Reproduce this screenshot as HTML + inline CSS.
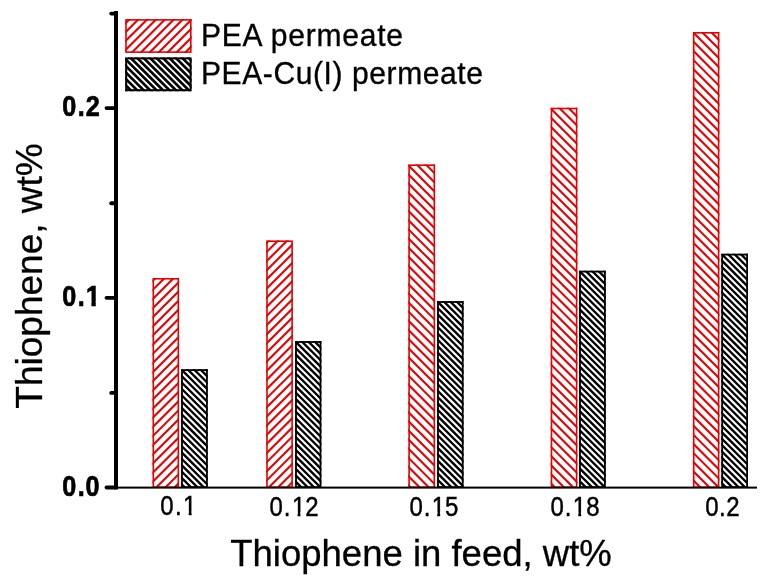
<!DOCTYPE html>
<html><head><meta charset="utf-8"><style>
html,body{margin:0;padding:0;background:#fff;}
body{width:770px;height:580px;overflow:hidden;}
svg{display:block;will-change:transform;}
text{font-family:"Liberation Sans",sans-serif;}
</style></head><body>
<svg width="770" height="580" viewBox="0 0 770 580">
<rect width="770" height="580" fill="#fff"/>
<clipPath id="c1"><rect x="152.50" y="278.00" width="26.60" height="210.00"/></clipPath>
<g clip-path="url(#c1)" stroke="#e60000" stroke-width="2.10">
<line x1="146.36" y1="268.86" x2="-81.92" y2="497.14"/>
<line x1="155.50" y1="268.86" x2="-72.78" y2="497.14"/>
<line x1="164.64" y1="268.86" x2="-63.64" y2="497.14"/>
<line x1="173.78" y1="268.86" x2="-54.50" y2="497.14"/>
<line x1="182.92" y1="268.86" x2="-45.36" y2="497.14"/>
<line x1="192.06" y1="268.86" x2="-36.22" y2="497.14"/>
<line x1="201.20" y1="268.86" x2="-27.08" y2="497.14"/>
<line x1="210.34" y1="268.86" x2="-17.94" y2="497.14"/>
<line x1="219.48" y1="268.86" x2="-8.80" y2="497.14"/>
<line x1="228.62" y1="268.86" x2="0.34" y2="497.14"/>
<line x1="237.76" y1="268.86" x2="9.48" y2="497.14"/>
<line x1="246.90" y1="268.86" x2="18.62" y2="497.14"/>
<line x1="256.04" y1="268.86" x2="27.76" y2="497.14"/>
<line x1="265.18" y1="268.86" x2="36.90" y2="497.14"/>
<line x1="274.32" y1="268.86" x2="46.04" y2="497.14"/>
<line x1="283.46" y1="268.86" x2="55.18" y2="497.14"/>
<line x1="292.60" y1="268.86" x2="64.32" y2="497.14"/>
<line x1="301.74" y1="268.86" x2="73.46" y2="497.14"/>
<line x1="310.88" y1="268.86" x2="82.60" y2="497.14"/>
<line x1="320.02" y1="268.86" x2="91.74" y2="497.14"/>
<line x1="329.16" y1="268.86" x2="100.88" y2="497.14"/>
<line x1="338.30" y1="268.86" x2="110.02" y2="497.14"/>
<line x1="347.44" y1="268.86" x2="119.16" y2="497.14"/>
<line x1="356.58" y1="268.86" x2="128.30" y2="497.14"/>
<line x1="365.72" y1="268.86" x2="137.44" y2="497.14"/>
<line x1="374.86" y1="268.86" x2="146.58" y2="497.14"/>
<line x1="384.00" y1="268.86" x2="155.72" y2="497.14"/>
<line x1="393.14" y1="268.86" x2="164.86" y2="497.14"/>
<line x1="402.28" y1="268.86" x2="174.00" y2="497.14"/>
<line x1="411.42" y1="268.86" x2="183.14" y2="497.14"/>
</g>
<rect x="153.30" y="278.80" width="25.00" height="208.40" fill="none" stroke="#e60000" stroke-width="1.60"/>
<clipPath id="c2"><rect x="266.20" y="240.40" width="26.70" height="247.60"/></clipPath>
<g clip-path="url(#c2)" stroke="#e60000" stroke-width="2.10">
<line x1="259.96" y1="231.26" x2="-5.92" y2="497.14"/>
<line x1="269.10" y1="231.26" x2="3.22" y2="497.14"/>
<line x1="278.24" y1="231.26" x2="12.36" y2="497.14"/>
<line x1="287.38" y1="231.26" x2="21.50" y2="497.14"/>
<line x1="296.52" y1="231.26" x2="30.64" y2="497.14"/>
<line x1="305.66" y1="231.26" x2="39.78" y2="497.14"/>
<line x1="314.80" y1="231.26" x2="48.92" y2="497.14"/>
<line x1="323.94" y1="231.26" x2="58.06" y2="497.14"/>
<line x1="333.08" y1="231.26" x2="67.20" y2="497.14"/>
<line x1="342.22" y1="231.26" x2="76.34" y2="497.14"/>
<line x1="351.36" y1="231.26" x2="85.48" y2="497.14"/>
<line x1="360.50" y1="231.26" x2="94.62" y2="497.14"/>
<line x1="369.64" y1="231.26" x2="103.76" y2="497.14"/>
<line x1="378.78" y1="231.26" x2="112.90" y2="497.14"/>
<line x1="387.92" y1="231.26" x2="122.04" y2="497.14"/>
<line x1="397.06" y1="231.26" x2="131.18" y2="497.14"/>
<line x1="406.20" y1="231.26" x2="140.32" y2="497.14"/>
<line x1="415.34" y1="231.26" x2="149.46" y2="497.14"/>
<line x1="424.48" y1="231.26" x2="158.60" y2="497.14"/>
<line x1="433.62" y1="231.26" x2="167.74" y2="497.14"/>
<line x1="442.76" y1="231.26" x2="176.88" y2="497.14"/>
<line x1="451.90" y1="231.26" x2="186.02" y2="497.14"/>
<line x1="461.04" y1="231.26" x2="195.16" y2="497.14"/>
<line x1="470.18" y1="231.26" x2="204.30" y2="497.14"/>
<line x1="479.32" y1="231.26" x2="213.44" y2="497.14"/>
<line x1="488.46" y1="231.26" x2="222.58" y2="497.14"/>
<line x1="497.60" y1="231.26" x2="231.72" y2="497.14"/>
<line x1="506.74" y1="231.26" x2="240.86" y2="497.14"/>
<line x1="515.88" y1="231.26" x2="250.00" y2="497.14"/>
<line x1="525.02" y1="231.26" x2="259.14" y2="497.14"/>
<line x1="534.16" y1="231.26" x2="268.28" y2="497.14"/>
<line x1="543.30" y1="231.26" x2="277.42" y2="497.14"/>
<line x1="552.44" y1="231.26" x2="286.56" y2="497.14"/>
<line x1="561.58" y1="231.26" x2="295.70" y2="497.14"/>
<line x1="570.72" y1="231.26" x2="304.84" y2="497.14"/>
</g>
<rect x="267.00" y="241.20" width="25.10" height="246.00" fill="none" stroke="#e60000" stroke-width="1.60"/>
<clipPath id="c3"><rect x="408.30" y="164.40" width="26.80" height="323.60"/></clipPath>
<g clip-path="url(#c3)" stroke="#e60000" stroke-width="2.10">
<line x1="60.18" y1="155.26" x2="402.06" y2="497.14"/>
<line x1="69.32" y1="155.26" x2="411.20" y2="497.14"/>
<line x1="78.46" y1="155.26" x2="420.34" y2="497.14"/>
<line x1="87.60" y1="155.26" x2="429.48" y2="497.14"/>
<line x1="96.74" y1="155.26" x2="438.62" y2="497.14"/>
<line x1="105.88" y1="155.26" x2="447.76" y2="497.14"/>
<line x1="115.02" y1="155.26" x2="456.90" y2="497.14"/>
<line x1="124.16" y1="155.26" x2="466.04" y2="497.14"/>
<line x1="133.30" y1="155.26" x2="475.18" y2="497.14"/>
<line x1="142.44" y1="155.26" x2="484.32" y2="497.14"/>
<line x1="151.58" y1="155.26" x2="493.46" y2="497.14"/>
<line x1="160.72" y1="155.26" x2="502.60" y2="497.14"/>
<line x1="169.86" y1="155.26" x2="511.74" y2="497.14"/>
<line x1="179.00" y1="155.26" x2="520.88" y2="497.14"/>
<line x1="188.14" y1="155.26" x2="530.02" y2="497.14"/>
<line x1="197.28" y1="155.26" x2="539.16" y2="497.14"/>
<line x1="206.42" y1="155.26" x2="548.30" y2="497.14"/>
<line x1="215.56" y1="155.26" x2="557.44" y2="497.14"/>
<line x1="224.70" y1="155.26" x2="566.58" y2="497.14"/>
<line x1="233.84" y1="155.26" x2="575.72" y2="497.14"/>
<line x1="242.98" y1="155.26" x2="584.86" y2="497.14"/>
<line x1="252.12" y1="155.26" x2="594.00" y2="497.14"/>
<line x1="261.26" y1="155.26" x2="603.14" y2="497.14"/>
<line x1="270.40" y1="155.26" x2="612.28" y2="497.14"/>
<line x1="279.54" y1="155.26" x2="621.42" y2="497.14"/>
<line x1="288.68" y1="155.26" x2="630.56" y2="497.14"/>
<line x1="297.82" y1="155.26" x2="639.70" y2="497.14"/>
<line x1="306.96" y1="155.26" x2="648.84" y2="497.14"/>
<line x1="316.10" y1="155.26" x2="657.98" y2="497.14"/>
<line x1="325.24" y1="155.26" x2="667.12" y2="497.14"/>
<line x1="334.38" y1="155.26" x2="676.26" y2="497.14"/>
<line x1="343.52" y1="155.26" x2="685.40" y2="497.14"/>
<line x1="352.66" y1="155.26" x2="694.54" y2="497.14"/>
<line x1="361.80" y1="155.26" x2="703.68" y2="497.14"/>
<line x1="370.94" y1="155.26" x2="712.82" y2="497.14"/>
<line x1="380.08" y1="155.26" x2="721.96" y2="497.14"/>
<line x1="389.22" y1="155.26" x2="731.10" y2="497.14"/>
<line x1="398.36" y1="155.26" x2="740.24" y2="497.14"/>
<line x1="407.50" y1="155.26" x2="749.38" y2="497.14"/>
<line x1="416.64" y1="155.26" x2="758.52" y2="497.14"/>
<line x1="425.78" y1="155.26" x2="767.66" y2="497.14"/>
<line x1="434.92" y1="155.26" x2="776.80" y2="497.14"/>
</g>
<rect x="409.10" y="165.20" width="25.20" height="322.00" fill="none" stroke="#e60000" stroke-width="1.60"/>
<clipPath id="c4"><rect x="550.70" y="107.70" width="26.70" height="380.30"/></clipPath>
<g clip-path="url(#c4)" stroke="#e60000" stroke-width="2.10">
<line x1="147.84" y1="98.56" x2="546.42" y2="497.14"/>
<line x1="156.98" y1="98.56" x2="555.56" y2="497.14"/>
<line x1="166.12" y1="98.56" x2="564.70" y2="497.14"/>
<line x1="175.26" y1="98.56" x2="573.84" y2="497.14"/>
<line x1="184.40" y1="98.56" x2="582.98" y2="497.14"/>
<line x1="193.54" y1="98.56" x2="592.12" y2="497.14"/>
<line x1="202.68" y1="98.56" x2="601.26" y2="497.14"/>
<line x1="211.82" y1="98.56" x2="610.40" y2="497.14"/>
<line x1="220.96" y1="98.56" x2="619.54" y2="497.14"/>
<line x1="230.10" y1="98.56" x2="628.68" y2="497.14"/>
<line x1="239.24" y1="98.56" x2="637.82" y2="497.14"/>
<line x1="248.38" y1="98.56" x2="646.96" y2="497.14"/>
<line x1="257.52" y1="98.56" x2="656.10" y2="497.14"/>
<line x1="266.66" y1="98.56" x2="665.24" y2="497.14"/>
<line x1="275.80" y1="98.56" x2="674.38" y2="497.14"/>
<line x1="284.94" y1="98.56" x2="683.52" y2="497.14"/>
<line x1="294.08" y1="98.56" x2="692.66" y2="497.14"/>
<line x1="303.22" y1="98.56" x2="701.80" y2="497.14"/>
<line x1="312.36" y1="98.56" x2="710.94" y2="497.14"/>
<line x1="321.50" y1="98.56" x2="720.08" y2="497.14"/>
<line x1="330.64" y1="98.56" x2="729.22" y2="497.14"/>
<line x1="339.78" y1="98.56" x2="738.36" y2="497.14"/>
<line x1="348.92" y1="98.56" x2="747.50" y2="497.14"/>
<line x1="358.06" y1="98.56" x2="756.64" y2="497.14"/>
<line x1="367.20" y1="98.56" x2="765.78" y2="497.14"/>
<line x1="376.34" y1="98.56" x2="774.92" y2="497.14"/>
<line x1="385.48" y1="98.56" x2="784.06" y2="497.14"/>
<line x1="394.62" y1="98.56" x2="793.20" y2="497.14"/>
<line x1="403.76" y1="98.56" x2="802.34" y2="497.14"/>
<line x1="412.90" y1="98.56" x2="811.48" y2="497.14"/>
<line x1="422.04" y1="98.56" x2="820.62" y2="497.14"/>
<line x1="431.18" y1="98.56" x2="829.76" y2="497.14"/>
<line x1="440.32" y1="98.56" x2="838.90" y2="497.14"/>
<line x1="449.46" y1="98.56" x2="848.04" y2="497.14"/>
<line x1="458.60" y1="98.56" x2="857.18" y2="497.14"/>
<line x1="467.74" y1="98.56" x2="866.32" y2="497.14"/>
<line x1="476.88" y1="98.56" x2="875.46" y2="497.14"/>
<line x1="486.02" y1="98.56" x2="884.60" y2="497.14"/>
<line x1="495.16" y1="98.56" x2="893.74" y2="497.14"/>
<line x1="504.30" y1="98.56" x2="902.88" y2="497.14"/>
<line x1="513.44" y1="98.56" x2="912.02" y2="497.14"/>
<line x1="522.58" y1="98.56" x2="921.16" y2="497.14"/>
<line x1="531.72" y1="98.56" x2="930.30" y2="497.14"/>
<line x1="540.86" y1="98.56" x2="939.44" y2="497.14"/>
<line x1="550.00" y1="98.56" x2="948.58" y2="497.14"/>
<line x1="559.14" y1="98.56" x2="957.72" y2="497.14"/>
<line x1="568.28" y1="98.56" x2="966.86" y2="497.14"/>
<line x1="577.42" y1="98.56" x2="976.00" y2="497.14"/>
</g>
<rect x="551.50" y="108.50" width="25.10" height="378.70" fill="none" stroke="#e60000" stroke-width="1.60"/>
<clipPath id="c5"><rect x="692.90" y="32.00" width="26.50" height="456.00"/></clipPath>
<g clip-path="url(#c5)" stroke="#e60000" stroke-width="2.10">
<line x1="217.52" y1="22.86" x2="691.80" y2="497.14"/>
<line x1="226.66" y1="22.86" x2="700.94" y2="497.14"/>
<line x1="235.80" y1="22.86" x2="710.08" y2="497.14"/>
<line x1="244.94" y1="22.86" x2="719.22" y2="497.14"/>
<line x1="254.08" y1="22.86" x2="728.36" y2="497.14"/>
<line x1="263.22" y1="22.86" x2="737.50" y2="497.14"/>
<line x1="272.36" y1="22.86" x2="746.64" y2="497.14"/>
<line x1="281.50" y1="22.86" x2="755.78" y2="497.14"/>
<line x1="290.64" y1="22.86" x2="764.92" y2="497.14"/>
<line x1="299.78" y1="22.86" x2="774.06" y2="497.14"/>
<line x1="308.92" y1="22.86" x2="783.20" y2="497.14"/>
<line x1="318.06" y1="22.86" x2="792.34" y2="497.14"/>
<line x1="327.20" y1="22.86" x2="801.48" y2="497.14"/>
<line x1="336.34" y1="22.86" x2="810.62" y2="497.14"/>
<line x1="345.48" y1="22.86" x2="819.76" y2="497.14"/>
<line x1="354.62" y1="22.86" x2="828.90" y2="497.14"/>
<line x1="363.76" y1="22.86" x2="838.04" y2="497.14"/>
<line x1="372.90" y1="22.86" x2="847.18" y2="497.14"/>
<line x1="382.04" y1="22.86" x2="856.32" y2="497.14"/>
<line x1="391.18" y1="22.86" x2="865.46" y2="497.14"/>
<line x1="400.32" y1="22.86" x2="874.60" y2="497.14"/>
<line x1="409.46" y1="22.86" x2="883.74" y2="497.14"/>
<line x1="418.60" y1="22.86" x2="892.88" y2="497.14"/>
<line x1="427.74" y1="22.86" x2="902.02" y2="497.14"/>
<line x1="436.88" y1="22.86" x2="911.16" y2="497.14"/>
<line x1="446.02" y1="22.86" x2="920.30" y2="497.14"/>
<line x1="455.16" y1="22.86" x2="929.44" y2="497.14"/>
<line x1="464.30" y1="22.86" x2="938.58" y2="497.14"/>
<line x1="473.44" y1="22.86" x2="947.72" y2="497.14"/>
<line x1="482.58" y1="22.86" x2="956.86" y2="497.14"/>
<line x1="491.72" y1="22.86" x2="966.00" y2="497.14"/>
<line x1="500.86" y1="22.86" x2="975.14" y2="497.14"/>
<line x1="510.00" y1="22.86" x2="984.28" y2="497.14"/>
<line x1="519.14" y1="22.86" x2="993.42" y2="497.14"/>
<line x1="528.28" y1="22.86" x2="1002.56" y2="497.14"/>
<line x1="537.42" y1="22.86" x2="1011.70" y2="497.14"/>
<line x1="546.56" y1="22.86" x2="1020.84" y2="497.14"/>
<line x1="555.70" y1="22.86" x2="1029.98" y2="497.14"/>
<line x1="564.84" y1="22.86" x2="1039.12" y2="497.14"/>
<line x1="573.98" y1="22.86" x2="1048.26" y2="497.14"/>
<line x1="583.12" y1="22.86" x2="1057.40" y2="497.14"/>
<line x1="592.26" y1="22.86" x2="1066.54" y2="497.14"/>
<line x1="601.40" y1="22.86" x2="1075.68" y2="497.14"/>
<line x1="610.54" y1="22.86" x2="1084.82" y2="497.14"/>
<line x1="619.68" y1="22.86" x2="1093.96" y2="497.14"/>
<line x1="628.82" y1="22.86" x2="1103.10" y2="497.14"/>
<line x1="637.96" y1="22.86" x2="1112.24" y2="497.14"/>
<line x1="647.10" y1="22.86" x2="1121.38" y2="497.14"/>
<line x1="656.24" y1="22.86" x2="1130.52" y2="497.14"/>
<line x1="665.38" y1="22.86" x2="1139.66" y2="497.14"/>
<line x1="674.52" y1="22.86" x2="1148.80" y2="497.14"/>
<line x1="683.66" y1="22.86" x2="1157.94" y2="497.14"/>
<line x1="692.80" y1="22.86" x2="1167.08" y2="497.14"/>
<line x1="701.94" y1="22.86" x2="1176.22" y2="497.14"/>
<line x1="711.08" y1="22.86" x2="1185.36" y2="497.14"/>
<line x1="720.22" y1="22.86" x2="1194.50" y2="497.14"/>
</g>
<rect x="693.70" y="32.80" width="24.90" height="454.40" fill="none" stroke="#e60000" stroke-width="1.60"/>
<clipPath id="c6"><rect x="181.10" y="369.20" width="26.70" height="118.80"/></clipPath>
<g clip-path="url(#c6)" stroke="#000" stroke-width="2.35">
<line x1="47.54" y1="362.84" x2="179.06" y2="494.36"/>
<line x1="53.90" y1="362.84" x2="185.42" y2="494.36"/>
<line x1="60.26" y1="362.84" x2="191.78" y2="494.36"/>
<line x1="66.62" y1="362.84" x2="198.14" y2="494.36"/>
<line x1="72.98" y1="362.84" x2="204.50" y2="494.36"/>
<line x1="79.34" y1="362.84" x2="210.86" y2="494.36"/>
<line x1="85.70" y1="362.84" x2="217.22" y2="494.36"/>
<line x1="92.06" y1="362.84" x2="223.58" y2="494.36"/>
<line x1="98.42" y1="362.84" x2="229.94" y2="494.36"/>
<line x1="104.78" y1="362.84" x2="236.30" y2="494.36"/>
<line x1="111.14" y1="362.84" x2="242.66" y2="494.36"/>
<line x1="117.50" y1="362.84" x2="249.02" y2="494.36"/>
<line x1="123.86" y1="362.84" x2="255.38" y2="494.36"/>
<line x1="130.22" y1="362.84" x2="261.74" y2="494.36"/>
<line x1="136.58" y1="362.84" x2="268.10" y2="494.36"/>
<line x1="142.94" y1="362.84" x2="274.46" y2="494.36"/>
<line x1="149.30" y1="362.84" x2="280.82" y2="494.36"/>
<line x1="155.66" y1="362.84" x2="287.18" y2="494.36"/>
<line x1="162.02" y1="362.84" x2="293.54" y2="494.36"/>
<line x1="168.38" y1="362.84" x2="299.90" y2="494.36"/>
<line x1="174.74" y1="362.84" x2="306.26" y2="494.36"/>
<line x1="181.10" y1="362.84" x2="312.62" y2="494.36"/>
<line x1="187.46" y1="362.84" x2="318.98" y2="494.36"/>
<line x1="193.82" y1="362.84" x2="325.34" y2="494.36"/>
<line x1="200.18" y1="362.84" x2="331.70" y2="494.36"/>
<line x1="206.54" y1="362.84" x2="338.06" y2="494.36"/>
<line x1="212.90" y1="362.84" x2="344.42" y2="494.36"/>
</g>
<rect x="182.00" y="370.10" width="24.90" height="117.00" fill="none" stroke="#000" stroke-width="1.80"/>
<clipPath id="c7"><rect x="295.10" y="341.10" width="26.30" height="146.90"/></clipPath>
<g clip-path="url(#c7)" stroke="#000" stroke-width="2.35">
<line x1="129.74" y1="334.74" x2="289.36" y2="494.36"/>
<line x1="136.10" y1="334.74" x2="295.72" y2="494.36"/>
<line x1="142.46" y1="334.74" x2="302.08" y2="494.36"/>
<line x1="148.82" y1="334.74" x2="308.44" y2="494.36"/>
<line x1="155.18" y1="334.74" x2="314.80" y2="494.36"/>
<line x1="161.54" y1="334.74" x2="321.16" y2="494.36"/>
<line x1="167.90" y1="334.74" x2="327.52" y2="494.36"/>
<line x1="174.26" y1="334.74" x2="333.88" y2="494.36"/>
<line x1="180.62" y1="334.74" x2="340.24" y2="494.36"/>
<line x1="186.98" y1="334.74" x2="346.60" y2="494.36"/>
<line x1="193.34" y1="334.74" x2="352.96" y2="494.36"/>
<line x1="199.70" y1="334.74" x2="359.32" y2="494.36"/>
<line x1="206.06" y1="334.74" x2="365.68" y2="494.36"/>
<line x1="212.42" y1="334.74" x2="372.04" y2="494.36"/>
<line x1="218.78" y1="334.74" x2="378.40" y2="494.36"/>
<line x1="225.14" y1="334.74" x2="384.76" y2="494.36"/>
<line x1="231.50" y1="334.74" x2="391.12" y2="494.36"/>
<line x1="237.86" y1="334.74" x2="397.48" y2="494.36"/>
<line x1="244.22" y1="334.74" x2="403.84" y2="494.36"/>
<line x1="250.58" y1="334.74" x2="410.20" y2="494.36"/>
<line x1="256.94" y1="334.74" x2="416.56" y2="494.36"/>
<line x1="263.30" y1="334.74" x2="422.92" y2="494.36"/>
<line x1="269.66" y1="334.74" x2="429.28" y2="494.36"/>
<line x1="276.02" y1="334.74" x2="435.64" y2="494.36"/>
<line x1="282.38" y1="334.74" x2="442.00" y2="494.36"/>
<line x1="288.74" y1="334.74" x2="448.36" y2="494.36"/>
<line x1="295.10" y1="334.74" x2="454.72" y2="494.36"/>
<line x1="301.46" y1="334.74" x2="461.08" y2="494.36"/>
<line x1="307.82" y1="334.74" x2="467.44" y2="494.36"/>
<line x1="314.18" y1="334.74" x2="473.80" y2="494.36"/>
<line x1="320.54" y1="334.74" x2="480.16" y2="494.36"/>
<line x1="326.90" y1="334.74" x2="486.52" y2="494.36"/>
</g>
<rect x="296.00" y="342.00" width="24.50" height="145.10" fill="none" stroke="#000" stroke-width="1.80"/>
<clipPath id="c8"><rect x="437.10" y="301.10" width="26.50" height="186.90"/></clipPath>
<g clip-path="url(#c8)" stroke="#000" stroke-width="2.35">
<line x1="233.58" y1="294.74" x2="433.20" y2="494.36"/>
<line x1="239.94" y1="294.74" x2="439.56" y2="494.36"/>
<line x1="246.30" y1="294.74" x2="445.92" y2="494.36"/>
<line x1="252.66" y1="294.74" x2="452.28" y2="494.36"/>
<line x1="259.02" y1="294.74" x2="458.64" y2="494.36"/>
<line x1="265.38" y1="294.74" x2="465.00" y2="494.36"/>
<line x1="271.74" y1="294.74" x2="471.36" y2="494.36"/>
<line x1="278.10" y1="294.74" x2="477.72" y2="494.36"/>
<line x1="284.46" y1="294.74" x2="484.08" y2="494.36"/>
<line x1="290.82" y1="294.74" x2="490.44" y2="494.36"/>
<line x1="297.18" y1="294.74" x2="496.80" y2="494.36"/>
<line x1="303.54" y1="294.74" x2="503.16" y2="494.36"/>
<line x1="309.90" y1="294.74" x2="509.52" y2="494.36"/>
<line x1="316.26" y1="294.74" x2="515.88" y2="494.36"/>
<line x1="322.62" y1="294.74" x2="522.24" y2="494.36"/>
<line x1="328.98" y1="294.74" x2="528.60" y2="494.36"/>
<line x1="335.34" y1="294.74" x2="534.96" y2="494.36"/>
<line x1="341.70" y1="294.74" x2="541.32" y2="494.36"/>
<line x1="348.06" y1="294.74" x2="547.68" y2="494.36"/>
<line x1="354.42" y1="294.74" x2="554.04" y2="494.36"/>
<line x1="360.78" y1="294.74" x2="560.40" y2="494.36"/>
<line x1="367.14" y1="294.74" x2="566.76" y2="494.36"/>
<line x1="373.50" y1="294.74" x2="573.12" y2="494.36"/>
<line x1="379.86" y1="294.74" x2="579.48" y2="494.36"/>
<line x1="386.22" y1="294.74" x2="585.84" y2="494.36"/>
<line x1="392.58" y1="294.74" x2="592.20" y2="494.36"/>
<line x1="398.94" y1="294.74" x2="598.56" y2="494.36"/>
<line x1="405.30" y1="294.74" x2="604.92" y2="494.36"/>
<line x1="411.66" y1="294.74" x2="611.28" y2="494.36"/>
<line x1="418.02" y1="294.74" x2="617.64" y2="494.36"/>
<line x1="424.38" y1="294.74" x2="624.00" y2="494.36"/>
<line x1="430.74" y1="294.74" x2="630.36" y2="494.36"/>
<line x1="437.10" y1="294.74" x2="636.72" y2="494.36"/>
<line x1="443.46" y1="294.74" x2="643.08" y2="494.36"/>
<line x1="449.82" y1="294.74" x2="649.44" y2="494.36"/>
<line x1="456.18" y1="294.74" x2="655.80" y2="494.36"/>
<line x1="462.54" y1="294.74" x2="662.16" y2="494.36"/>
<line x1="468.90" y1="294.74" x2="668.52" y2="494.36"/>
</g>
<rect x="438.00" y="302.00" width="24.70" height="185.10" fill="none" stroke="#000" stroke-width="1.80"/>
<clipPath id="c9"><rect x="579.10" y="270.70" width="26.70" height="217.30"/></clipPath>
<g clip-path="url(#c9)" stroke="#000" stroke-width="2.35">
<line x1="343.78" y1="264.34" x2="573.80" y2="494.36"/>
<line x1="350.14" y1="264.34" x2="580.16" y2="494.36"/>
<line x1="356.50" y1="264.34" x2="586.52" y2="494.36"/>
<line x1="362.86" y1="264.34" x2="592.88" y2="494.36"/>
<line x1="369.22" y1="264.34" x2="599.24" y2="494.36"/>
<line x1="375.58" y1="264.34" x2="605.60" y2="494.36"/>
<line x1="381.94" y1="264.34" x2="611.96" y2="494.36"/>
<line x1="388.30" y1="264.34" x2="618.32" y2="494.36"/>
<line x1="394.66" y1="264.34" x2="624.68" y2="494.36"/>
<line x1="401.02" y1="264.34" x2="631.04" y2="494.36"/>
<line x1="407.38" y1="264.34" x2="637.40" y2="494.36"/>
<line x1="413.74" y1="264.34" x2="643.76" y2="494.36"/>
<line x1="420.10" y1="264.34" x2="650.12" y2="494.36"/>
<line x1="426.46" y1="264.34" x2="656.48" y2="494.36"/>
<line x1="432.82" y1="264.34" x2="662.84" y2="494.36"/>
<line x1="439.18" y1="264.34" x2="669.20" y2="494.36"/>
<line x1="445.54" y1="264.34" x2="675.56" y2="494.36"/>
<line x1="451.90" y1="264.34" x2="681.92" y2="494.36"/>
<line x1="458.26" y1="264.34" x2="688.28" y2="494.36"/>
<line x1="464.62" y1="264.34" x2="694.64" y2="494.36"/>
<line x1="470.98" y1="264.34" x2="701.00" y2="494.36"/>
<line x1="477.34" y1="264.34" x2="707.36" y2="494.36"/>
<line x1="483.70" y1="264.34" x2="713.72" y2="494.36"/>
<line x1="490.06" y1="264.34" x2="720.08" y2="494.36"/>
<line x1="496.42" y1="264.34" x2="726.44" y2="494.36"/>
<line x1="502.78" y1="264.34" x2="732.80" y2="494.36"/>
<line x1="509.14" y1="264.34" x2="739.16" y2="494.36"/>
<line x1="515.50" y1="264.34" x2="745.52" y2="494.36"/>
<line x1="521.86" y1="264.34" x2="751.88" y2="494.36"/>
<line x1="528.22" y1="264.34" x2="758.24" y2="494.36"/>
<line x1="534.58" y1="264.34" x2="764.60" y2="494.36"/>
<line x1="540.94" y1="264.34" x2="770.96" y2="494.36"/>
<line x1="547.30" y1="264.34" x2="777.32" y2="494.36"/>
<line x1="553.66" y1="264.34" x2="783.68" y2="494.36"/>
<line x1="560.02" y1="264.34" x2="790.04" y2="494.36"/>
<line x1="566.38" y1="264.34" x2="796.40" y2="494.36"/>
<line x1="572.74" y1="264.34" x2="802.76" y2="494.36"/>
<line x1="579.10" y1="264.34" x2="809.12" y2="494.36"/>
<line x1="585.46" y1="264.34" x2="815.48" y2="494.36"/>
<line x1="591.82" y1="264.34" x2="821.84" y2="494.36"/>
<line x1="598.18" y1="264.34" x2="828.20" y2="494.36"/>
<line x1="604.54" y1="264.34" x2="834.56" y2="494.36"/>
<line x1="610.90" y1="264.34" x2="840.92" y2="494.36"/>
</g>
<rect x="580.00" y="271.60" width="24.90" height="215.50" fill="none" stroke="#000" stroke-width="1.80"/>
<clipPath id="c10"><rect x="721.30" y="253.70" width="26.70" height="234.30"/></clipPath>
<g clip-path="url(#c10)" stroke="#000" stroke-width="2.35">
<line x1="473.26" y1="247.34" x2="720.28" y2="494.36"/>
<line x1="479.62" y1="247.34" x2="726.64" y2="494.36"/>
<line x1="485.98" y1="247.34" x2="733.00" y2="494.36"/>
<line x1="492.34" y1="247.34" x2="739.36" y2="494.36"/>
<line x1="498.70" y1="247.34" x2="745.72" y2="494.36"/>
<line x1="505.06" y1="247.34" x2="752.08" y2="494.36"/>
<line x1="511.42" y1="247.34" x2="758.44" y2="494.36"/>
<line x1="517.78" y1="247.34" x2="764.80" y2="494.36"/>
<line x1="524.14" y1="247.34" x2="771.16" y2="494.36"/>
<line x1="530.50" y1="247.34" x2="777.52" y2="494.36"/>
<line x1="536.86" y1="247.34" x2="783.88" y2="494.36"/>
<line x1="543.22" y1="247.34" x2="790.24" y2="494.36"/>
<line x1="549.58" y1="247.34" x2="796.60" y2="494.36"/>
<line x1="555.94" y1="247.34" x2="802.96" y2="494.36"/>
<line x1="562.30" y1="247.34" x2="809.32" y2="494.36"/>
<line x1="568.66" y1="247.34" x2="815.68" y2="494.36"/>
<line x1="575.02" y1="247.34" x2="822.04" y2="494.36"/>
<line x1="581.38" y1="247.34" x2="828.40" y2="494.36"/>
<line x1="587.74" y1="247.34" x2="834.76" y2="494.36"/>
<line x1="594.10" y1="247.34" x2="841.12" y2="494.36"/>
<line x1="600.46" y1="247.34" x2="847.48" y2="494.36"/>
<line x1="606.82" y1="247.34" x2="853.84" y2="494.36"/>
<line x1="613.18" y1="247.34" x2="860.20" y2="494.36"/>
<line x1="619.54" y1="247.34" x2="866.56" y2="494.36"/>
<line x1="625.90" y1="247.34" x2="872.92" y2="494.36"/>
<line x1="632.26" y1="247.34" x2="879.28" y2="494.36"/>
<line x1="638.62" y1="247.34" x2="885.64" y2="494.36"/>
<line x1="644.98" y1="247.34" x2="892.00" y2="494.36"/>
<line x1="651.34" y1="247.34" x2="898.36" y2="494.36"/>
<line x1="657.70" y1="247.34" x2="904.72" y2="494.36"/>
<line x1="664.06" y1="247.34" x2="911.08" y2="494.36"/>
<line x1="670.42" y1="247.34" x2="917.44" y2="494.36"/>
<line x1="676.78" y1="247.34" x2="923.80" y2="494.36"/>
<line x1="683.14" y1="247.34" x2="930.16" y2="494.36"/>
<line x1="689.50" y1="247.34" x2="936.52" y2="494.36"/>
<line x1="695.86" y1="247.34" x2="942.88" y2="494.36"/>
<line x1="702.22" y1="247.34" x2="949.24" y2="494.36"/>
<line x1="708.58" y1="247.34" x2="955.60" y2="494.36"/>
<line x1="714.94" y1="247.34" x2="961.96" y2="494.36"/>
<line x1="721.30" y1="247.34" x2="968.32" y2="494.36"/>
<line x1="727.66" y1="247.34" x2="974.68" y2="494.36"/>
<line x1="734.02" y1="247.34" x2="981.04" y2="494.36"/>
<line x1="740.38" y1="247.34" x2="987.40" y2="494.36"/>
<line x1="746.74" y1="247.34" x2="993.76" y2="494.36"/>
<line x1="753.10" y1="247.34" x2="1000.12" y2="494.36"/>
</g>
<rect x="722.20" y="254.60" width="24.90" height="232.50" fill="none" stroke="#000" stroke-width="1.80"/>
<rect x="114" y="486.6" width="643" height="2" fill="#000"/>
<rect x="114" y="11" width="4" height="478.5" fill="#000"/>
<line x1="106.5" y1="487.50" x2="115" y2="487.50" stroke="#000" stroke-width="3.8" stroke-linecap="round"/>
<line x1="106.5" y1="297.80" x2="115" y2="297.80" stroke="#000" stroke-width="3.8" stroke-linecap="round"/>
<line x1="106.5" y1="108.10" x2="115" y2="108.10" stroke="#000" stroke-width="3.8" stroke-linecap="round"/>
<line x1="111.2" y1="392.95" x2="115" y2="392.95" stroke="#000" stroke-width="3.8" stroke-linecap="round"/>
<line x1="111.2" y1="203.25" x2="115" y2="203.25" stroke="#000" stroke-width="3.8" stroke-linecap="round"/>
<line x1="111.2" y1="13.55" x2="115" y2="13.55" stroke="#000" stroke-width="3.8" stroke-linecap="round"/>
<g transform="translate(62.30,116.45) scale(0.861,1)"><text x="0" y="0" font-size="29.30" font-weight="bold" stroke="#000" stroke-width="0.70">0</text></g>
<g transform="translate(77.79,116.45) scale(0.861,1)"><text x="0" y="0" font-size="29.30" font-weight="bold" stroke="#000" stroke-width="0.70">.</text></g>
<g transform="translate(85.83,116.45) scale(0.861,1)"><text x="0" y="0" font-size="29.30" font-weight="bold" stroke="#000" stroke-width="0.70">2</text></g>
<g transform="translate(62.30,306.25) scale(0.861,1)"><text x="0" y="0" font-size="29.30" font-weight="bold" stroke="#000" stroke-width="0.70">0</text></g>
<g transform="translate(77.79,306.25) scale(0.861,1)"><text x="0" y="0" font-size="29.30" font-weight="bold" stroke="#000" stroke-width="0.70">.</text></g>
<clipPath id="g11"><path d="M6.37 1.43 L11.33 1.43 L11.33 -4.86 L18.60 -4.86 L18.60 -28.61 L-2.86 -28.61 L-2.86 -4.86 L6.37 -4.86 Z"/></clipPath>
<g transform="translate(85.95,306.25) scale(0.861,1)"><text x="0" y="0" font-size="29.30" font-weight="bold" stroke="#000" stroke-width="0.70" clip-path="url(#g11)">1</text></g>
<g transform="translate(62.30,495.85) scale(0.861,1)"><text x="0" y="0" font-size="29.30" font-weight="bold" stroke="#000" stroke-width="0.70">0</text></g>
<g transform="translate(77.79,495.85) scale(0.861,1)"><text x="0" y="0" font-size="29.30" font-weight="bold" stroke="#000" stroke-width="0.70">.</text></g>
<g transform="translate(85.40,495.85) scale(0.861,1)"><text x="0" y="0" font-size="29.30" font-weight="bold" stroke="#000" stroke-width="0.70">0</text></g>
<g transform="translate(160.36,515.30) scale(0.889,1)"><text x="0" y="0" font-size="27.00" stroke="#000" stroke-width="0.45">0</text></g>
<g transform="translate(175.01,515.30) scale(0.889,1)"><text x="0" y="0" font-size="27.00" stroke="#000" stroke-width="0.45">.</text></g>
<clipPath id="g12"><path d="M6.39 1.32 L9.57 1.32 L9.57 -3.82 L17.14 -3.82 L17.14 -26.37 L-2.64 -26.37 L-2.64 -3.82 L6.39 -3.82 Z"/></clipPath>
<g transform="translate(183.04,515.30) scale(0.889,1)"><text x="0" y="0" font-size="27.00" stroke="#000" stroke-width="0.45" clip-path="url(#g12)">1</text></g>
<g transform="translate(269.46,515.70) scale(0.889,1)"><text x="0" y="0" font-size="27.00" stroke="#000" stroke-width="0.45">0</text></g>
<g transform="translate(283.81,515.70) scale(0.889,1)"><text x="0" y="0" font-size="27.00" stroke="#000" stroke-width="0.45">.</text></g>
<clipPath id="g13"><path d="M6.39 1.32 L9.57 1.32 L9.57 -3.82 L17.14 -3.82 L17.14 -26.37 L-2.64 -26.37 L-2.64 -3.82 L6.39 -3.82 Z"/></clipPath>
<g transform="translate(291.94,515.70) scale(0.889,1)"><text x="0" y="0" font-size="27.00" stroke="#000" stroke-width="0.45" clip-path="url(#g13)">1</text></g>
<g transform="translate(305.19,515.70) scale(0.889,1)"><text x="0" y="0" font-size="27.00" stroke="#000" stroke-width="0.45">2</text></g>
<g transform="translate(409.46,515.70) scale(0.889,1)"><text x="0" y="0" font-size="27.00" stroke="#000" stroke-width="0.45">0</text></g>
<g transform="translate(423.81,515.70) scale(0.889,1)"><text x="0" y="0" font-size="27.00" stroke="#000" stroke-width="0.45">.</text></g>
<clipPath id="g14"><path d="M6.39 1.32 L9.57 1.32 L9.57 -3.82 L17.14 -3.82 L17.14 -26.37 L-2.64 -26.37 L-2.64 -3.82 L6.39 -3.82 Z"/></clipPath>
<g transform="translate(431.64,515.70) scale(0.889,1)"><text x="0" y="0" font-size="27.00" stroke="#000" stroke-width="0.45" clip-path="url(#g14)">1</text></g>
<g transform="translate(445.04,515.70) scale(0.889,1)"><text x="0" y="0" font-size="27.00" stroke="#000" stroke-width="0.45">5</text></g>
<g transform="translate(550.46,515.70) scale(0.889,1)"><text x="0" y="0" font-size="27.00" stroke="#000" stroke-width="0.45">0</text></g>
<g transform="translate(564.81,515.70) scale(0.889,1)"><text x="0" y="0" font-size="27.00" stroke="#000" stroke-width="0.45">.</text></g>
<clipPath id="g15"><path d="M6.39 1.32 L9.57 1.32 L9.57 -3.82 L17.14 -3.82 L17.14 -26.37 L-2.64 -26.37 L-2.64 -3.82 L6.39 -3.82 Z"/></clipPath>
<g transform="translate(572.64,515.70) scale(0.889,1)"><text x="0" y="0" font-size="27.00" stroke="#000" stroke-width="0.45" clip-path="url(#g15)">1</text></g>
<g transform="translate(586.36,515.70) scale(0.889,1)"><text x="0" y="0" font-size="27.00" stroke="#000" stroke-width="0.45">8</text></g>
<g transform="translate(705.16,515.70) scale(0.889,1)"><text x="0" y="0" font-size="27.00" stroke="#000" stroke-width="0.45">0</text></g>
<g transform="translate(719.11,515.70) scale(0.889,1)"><text x="0" y="0" font-size="27.00" stroke="#000" stroke-width="0.45">.</text></g>
<g transform="translate(726.29,515.70) scale(0.889,1)"><text x="0" y="0" font-size="27.00" stroke="#000" stroke-width="0.45">2</text></g>
<text x="421" y="566" font-size="36.5" stroke="#000" stroke-width="0.3" text-anchor="middle">Thiophene in feed, wt%</text>
<text transform="translate(42,276) rotate(-90)" font-size="37" stroke="#000" stroke-width="0.3" text-anchor="middle">Thiophene, wt%</text>
<clipPath id="c16"><rect x="125.20" y="19.10" width="66.40" height="33.80"/></clipPath>
<g clip-path="url(#c16)" stroke="#e60000" stroke-width="2.10">
<line x1="120.80" y1="10.20" x2="69.20" y2="61.80"/>
<line x1="129.70" y1="10.20" x2="78.10" y2="61.80"/>
<line x1="138.60" y1="10.20" x2="87.00" y2="61.80"/>
<line x1="147.50" y1="10.20" x2="95.90" y2="61.80"/>
<line x1="156.40" y1="10.20" x2="104.80" y2="61.80"/>
<line x1="165.30" y1="10.20" x2="113.70" y2="61.80"/>
<line x1="174.20" y1="10.20" x2="122.60" y2="61.80"/>
<line x1="183.10" y1="10.20" x2="131.50" y2="61.80"/>
<line x1="192.00" y1="10.20" x2="140.40" y2="61.80"/>
<line x1="200.90" y1="10.20" x2="149.30" y2="61.80"/>
<line x1="209.80" y1="10.20" x2="158.20" y2="61.80"/>
<line x1="218.70" y1="10.20" x2="167.10" y2="61.80"/>
<line x1="227.60" y1="10.20" x2="176.00" y2="61.80"/>
<line x1="236.50" y1="10.20" x2="184.90" y2="61.80"/>
<line x1="245.40" y1="10.20" x2="193.80" y2="61.80"/>
<line x1="254.30" y1="10.20" x2="202.70" y2="61.80"/>
</g>
<rect x="126.00" y="19.90" width="64.80" height="32.20" fill="none" stroke="#e60000" stroke-width="1.60"/>
<clipPath id="c17"><rect x="125.20" y="57.40" width="66.40" height="33.80"/></clipPath>
<g clip-path="url(#c17)" stroke="#000" stroke-width="2.70">
<line x1="72.10" y1="50.95" x2="118.80" y2="97.65"/>
<line x1="78.55" y1="50.95" x2="125.25" y2="97.65"/>
<line x1="85.00" y1="50.95" x2="131.70" y2="97.65"/>
<line x1="91.45" y1="50.95" x2="138.15" y2="97.65"/>
<line x1="97.90" y1="50.95" x2="144.60" y2="97.65"/>
<line x1="104.35" y1="50.95" x2="151.05" y2="97.65"/>
<line x1="110.80" y1="50.95" x2="157.50" y2="97.65"/>
<line x1="117.25" y1="50.95" x2="163.95" y2="97.65"/>
<line x1="123.70" y1="50.95" x2="170.40" y2="97.65"/>
<line x1="130.15" y1="50.95" x2="176.85" y2="97.65"/>
<line x1="136.60" y1="50.95" x2="183.30" y2="97.65"/>
<line x1="143.05" y1="50.95" x2="189.75" y2="97.65"/>
<line x1="149.50" y1="50.95" x2="196.20" y2="97.65"/>
<line x1="155.95" y1="50.95" x2="202.65" y2="97.65"/>
<line x1="162.40" y1="50.95" x2="209.10" y2="97.65"/>
<line x1="168.85" y1="50.95" x2="215.55" y2="97.65"/>
<line x1="175.30" y1="50.95" x2="222.00" y2="97.65"/>
<line x1="181.75" y1="50.95" x2="228.45" y2="97.65"/>
<line x1="188.20" y1="50.95" x2="234.90" y2="97.65"/>
<line x1="194.65" y1="50.95" x2="241.35" y2="97.65"/>
</g>
<rect x="126.20" y="58.40" width="64.40" height="31.80" fill="none" stroke="#000" stroke-width="2.00"/>
<text transform="translate(201,46.4) scale(0.930,1)" font-size="32.3" stroke="#000" stroke-width="0.35" textLength="217.2" lengthAdjust="spacing">PEA permeate</text>
<text transform="translate(201,84.0) scale(0.930,1)" font-size="32.3" stroke="#000" stroke-width="0.35" textLength="303.2" lengthAdjust="spacing">PEA-Cu(I) permeate</text>
</svg>
</body></html>
